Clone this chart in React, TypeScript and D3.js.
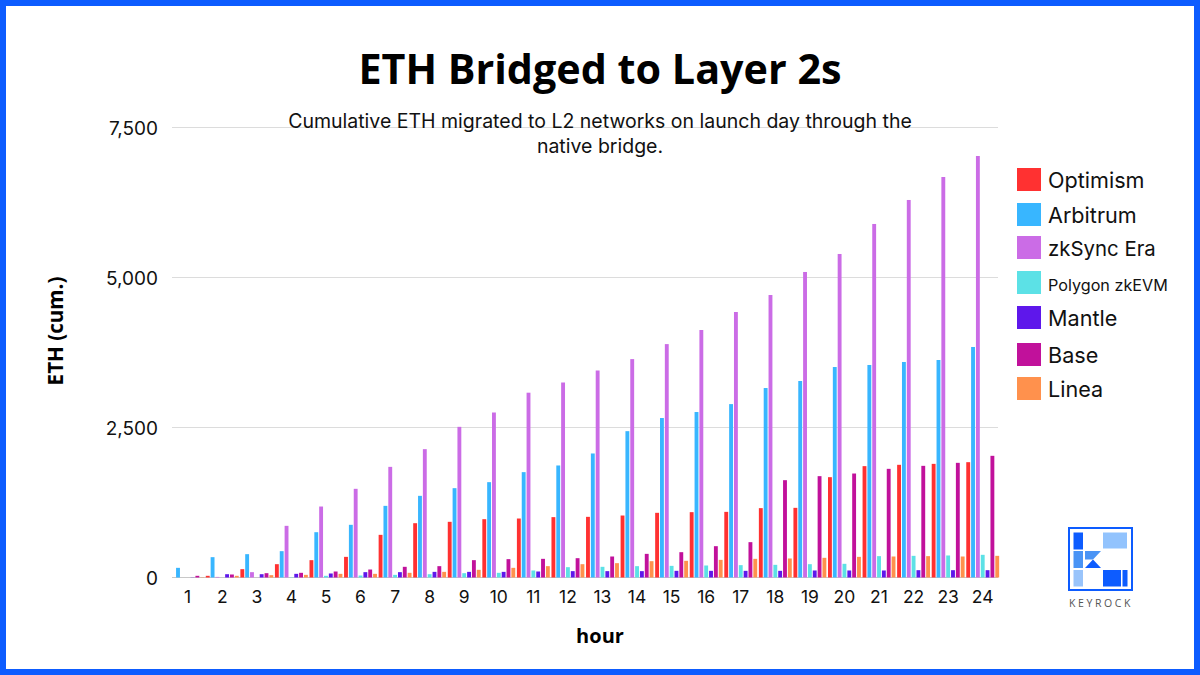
import * as d3 from "d3"

const hours = d3.range(1, 25).map(String)

const seriesNames = ["Optimism", "Arbitrum", "zkSync Era", "Polygon zkEVM", "Mantle", "Base", "Linea"]
const seriesColors = ["#ff3131", "#38b6ff", "#cb6ce6", "#5ce1e6", "#5e17eb", "#c1119b", "#ff914d"]

const optimism = [0, 28, 139, 222, 289, 344, 711, 905, 928, 972, 983, 1006, 1011, 1033, 1078, 1089, 1094, 1156, 1161, 1672, 1856, 1878, 1894, 1922]
const arbitrum = [161, 339, 389, 439, 755, 878, 1194, 1361, 1489, 1589, 1756, 1867, 2067, 2439, 2658, 2758, 2890, 3158, 3275, 3508, 3542, 3592, 3625, 3842]
const zksync = [0, 10, 89, 861, 1183, 1478, 1844, 2139, 2511, 2750, 3080, 3250, 3450, 3640, 3890, 4125, 4425, 4708, 5092, 5392, 5892, 6292, 6675, 7025]
const polygon = [0, 0, 0, 5, 28, 33, 44, 55, 72, 78, 117, 172, 178, 189, 194, 200, 206, 211, 222, 228, 356, 361, 367, 378]
const mantle = [3, 55, 55, 61, 67, 89, 89, 94, 94, 94, 100, 106, 106, 106, 111, 111, 111, 111, 117, 117, 117, 122, 122, 122]
const base = [28, 50, 72, 78, 100, 133, 178, 189, 289, 306, 311, 322, 350, 394, 422, 522, 589, 1622, 1689, 1733, 1811, 1861, 1911, 2028]
const linea = [5, 28, 39, 44, 61, 61, 78, 94, 128, 161, 189, 222, 239, 272, 278, 294, 311, 317, 328, 344, 350, 356, 350, 361]

const seriesValues = [optimism, arbitrum, zksync, polygon, mantle, base, linea]

const yTicks = [0, 2500, 5000, 7500]
const subtitleLines = [
  "Cumulative ETH migrated to L2 networks on launch day through the",
  "native bridge.",
]

const WIDTH = 1200
const HEIGHT = 675
const FONT = "'Open Sans', sans-serif"
const BODY_FONT = "Inter, sans-serif"

// legend rows are not evenly spaced in the reference
const legendRows = [180, 215, 248, 283, 318, 355, 389]
const legendFontSizes = [21.6, 21.6, 20.4, 16.2, 21.6, 21.6, 21.6]

export default function App() {
  const x = d3.scaleBand().domain(hours).range([170.4, 1000])
  const inner = d3
    .scaleBand()
    .domain(seriesNames)
    .range([x.bandwidth() / 2 - 16.45, x.bandwidth() / 2 + 16.45])
    .paddingInner(0.2)
  const y = d3.scaleLinear().domain([0, 7500]).range([577.5, 127.5])

  return (
    <svg
      width={WIDTH}
      height={HEIGHT}
      viewBox={`0 0 ${WIDTH} ${HEIGHT}`}
      style={{ position: "absolute", left: 0, top: 0, background: "#fff" }}
    >
      <rect x={3} y={3} width={WIDTH - 6} height={HEIGHT - 6} fill="#fff" stroke="#0d5cff" strokeWidth={6} />

      <text x={600} y={84} textAnchor="middle" fontFamily={FONT} fontWeight={700} fontSize={41.3} fill="#000">
        ETH Bridged to Layer 2s
      </text>

      {yTicks.map((t) => (
        <g key={t}>
          <line x1={172} x2={998} y1={y(t)} y2={y(t)} stroke={t === 0 ? "#c8c8c8" : "#dcdcdc"} strokeWidth={1.2} />
          <text x={158} y={y(t) + 7} textAnchor="end" fontFamily={BODY_FONT} fontSize={19} fill="#111">
            {d3.format(",")(t)}
          </text>
        </g>
      ))}

      {subtitleLines.map((line, i) => (
        <text key={line} x={600} y={127.8 + i * 25} textAnchor="middle" fontFamily={BODY_FONT} fontSize={19.5} fill="#111">
          {line}
        </text>
      ))}

      {seriesNames.map((name, s) => (
        <g key={name} fill={seriesColors[s]}>
          {seriesValues[s].map((v, i) => (
            <rect
              key={hours[i]}
              x={(x(hours[i]) as number) + (inner(name) as number)}
              y={y(v)}
              width={inner.bandwidth()}
              height={y(0) - y(v)}
            />
          ))}
        </g>
      ))}

      {hours.map((h) => (
        <text
          key={h}
          x={(x(h) as number) + x.bandwidth() / 2}
          y={603}
          textAnchor="middle"
          fontFamily={BODY_FONT}
          fontSize={17.5}
          fill="#111"
        >
          {h}
        </text>
      ))}

      <text x={600} y={643} textAnchor="middle" fontFamily={FONT} fontWeight={700} fontSize={20} fill="#000">
        hour
      </text>
      <text
        transform="translate(63,331) rotate(-90)"
        textAnchor="middle"
        fontFamily={FONT}
        fontWeight={700}
        fontSize={20.6}
        fill="#000"
      >
        ETH (cum.)
      </text>

      {seriesNames.map((name, s) => (
        <g key={name}>
          <rect x={1017} y={legendRows[s] - 12} width={24} height={23} fill={seriesColors[s]} />
          <text
            x={1048}
            y={legendRows[s] + 7.6}
            fontFamily={BODY_FONT}
            fontSize={legendFontSizes[s]}
            fill="#111"
          >
            {name}
          </text>
        </g>
      ))}

      {/* logo */}
      <rect x={1069} y={528} width={63} height={62} fill="none" stroke="#0d5cff" strokeWidth={2} />
      <rect x={1073.5} y={532.5} width={9.5} height={17} fill="#0d5cff" />
      <rect x={1073.5} y={551} width={9.5} height={17} fill="#4a94f5" />
      <rect x={1073.5} y={570} width={9.5} height={16.5} fill="#99c4fb" />
      <rect x={1103} y={532.5} width={24} height={16} fill="#92c3fd" />
      <rect x={1103} y={570} width={18} height={16.5} fill="#0d5cff" />
      <rect x={1122.5} y={570} width={5} height={16.5} fill="#0d5cff" />
      <path d="M1085 551 H1101 L1093 559.5 H1085 Z" fill="#4a94f5" />
      <path d="M1085 568 L1093 559.5 L1101 568 Z" fill="#0d5cff" />
      <text x={1101} y={607} textAnchor="middle" fontFamily={FONT} fontSize={10.5} letterSpacing={2.6} fill="#555">
        KEYROCK
      </text>
    </svg>
  )
}
